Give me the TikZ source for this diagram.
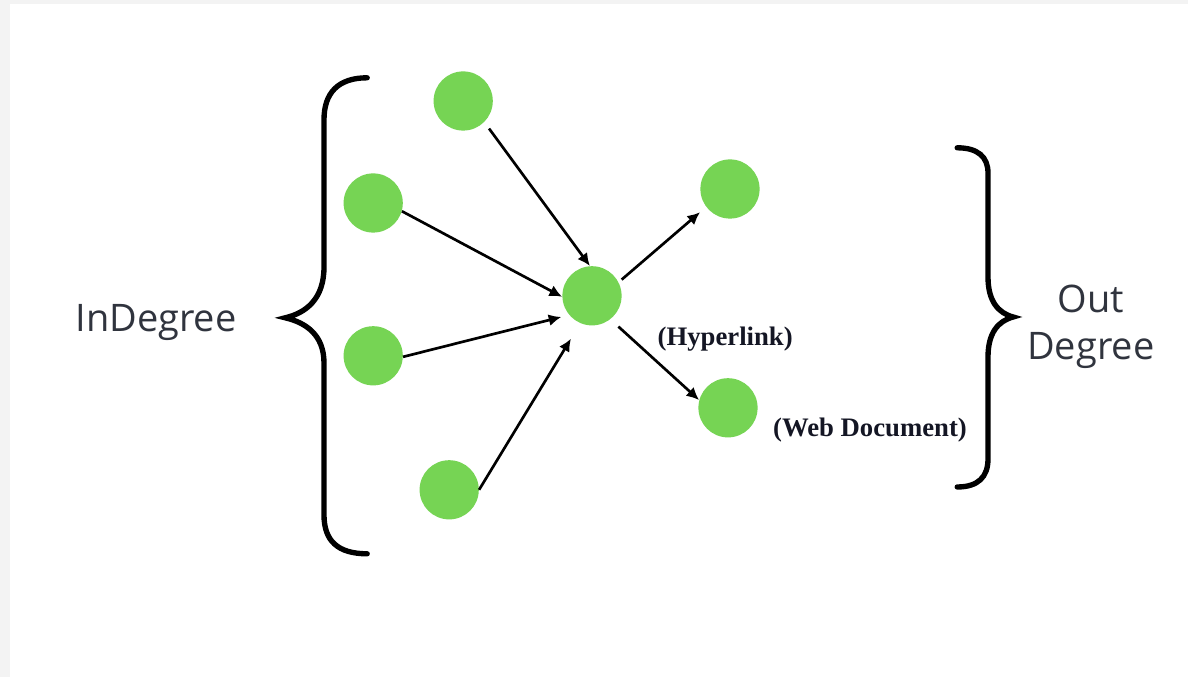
\documentclass[tikz,border=0pt]{standalone}
\usepackage{fontspec}
\usepackage{tikz}
\usetikzlibrary{arrows.meta}
\newfontfamily\degreefont{Open Sans}
\newfontfamily\notefont{Liberation Serif}
\definecolor{pagegreen}{RGB}{118,212,84}
\definecolor{degreegray}{RGB}{48,52,62}
\definecolor{notedark}{RGB}{20,22,36}
\definecolor{framegray}{RGB}{243,243,243}

\begin{document}
\begin{tikzpicture}[
    page/.style={circle, fill=pagegreen, minimum size=1.48cm, inner sep=0pt},
    link/.style={-{Latex[length=9pt,width=8.5pt]}, line width=1.9pt},
    brace/.style={line width=3.8pt, line cap=round},
    degree/.style={font=\degreefont\fontsize{27}{33}\selectfont, text=degreegray, align=center},
    note/.style={font=\notefont\bfseries\fontsize{19}{23}\selectfont, text=notedark}]
    	% frame
    	\fill [framegray] (0,0) rectangle (29.7,16.925);
    	\fill [white] (0.25,0) rectangle (29.7,16.825);
    	% braces
    	\draw [brace] (9.18,14.98) .. controls (8.45,14.98) and (8.1,14.6) .. (8.1,13.93)
    		-- (8.1,10.25) .. controls (8.1,9.45) and (7.65,9.1) .. (7.13,8.98)
    		.. controls (7.65,8.86) and (8.1,8.55) .. (8.1,7.85)
    		-- (8.1,4.05) .. controls (8.1,3.4) and (8.45,3.08) .. (9.18,3.08);
    	\draw [brace] (23.93,13.23) .. controls (24.45,13.23) and (24.7,13.0) .. (24.7,12.6)
    		-- (24.7,10.0) .. controls (24.7,9.4) and (24.95,9.1) .. (25.33,9.0)
    		.. controls (24.95,8.9) and (24.7,8.6) .. (24.7,8.0)
    		-- (24.7,5.45) .. controls (24.7,5.0) and (24.45,4.75) .. (23.93,4.75);
    	% pages
    	\node [page] (n1) at (11.58,14.40) {};
    	\node [page] (n2) at (9.33,11.85) {};
    	\node [page] (n3) at (9.33,8.03) {};
    	\node [page] (n4) at (11.23,4.68) {};
    	\node [page] (hub) at (14.8,9.53) {};
    	\node [page] (o1) at (18.25,12.2) {};
    	\node [page] (o2) at (18.2,6.73) {};
    	% links
    	\draw [link, shorten <=0.2cm] (n1.-45) -- (hub.94);
    	\draw [link] (n2.-16) -- (hub.182);
    	\draw [link, shorten >=0.2cm] (n3.-2) -- (hub.220);
    	\draw [link, shorten >=0.45cm] (n4.0) -- (hub.247);
    	\draw [link, shorten <=0.1cm, shorten >=0.2cm] (hub.27) -- (o1.217);
    	\draw [link, shorten <=0.27cm] (hub.-52) -- (o2.165);
    	% labels
    	\node [degree] (indeg) at (3.9,8.85) {InDegree};
    	\node [degree] (outdeg) at (27.27,8.75) {Out\\Degree};
    	\node [note] (hyper) at (18.13,8.45) {(Hyperlink)};
    	\node [note] (webdoc) at (21.75,6.18) {(Web Document)};
    \end{tikzpicture}
\end{document}
